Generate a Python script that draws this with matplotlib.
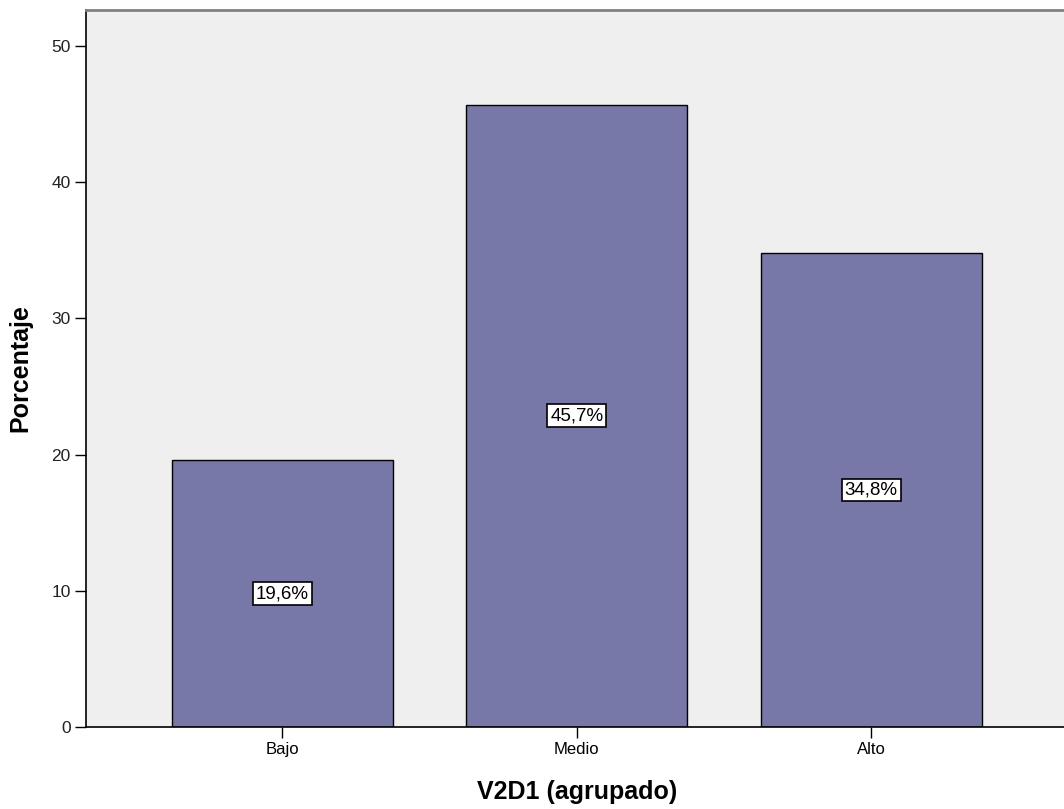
import matplotlib.pyplot as plt

categories = ["Bajo", "Medio", "Alto"]
percentages = [19.6, 45.7, 34.8]
bar_labels = ["19,6%", "45,7%", "34,8%"]
y_ticks = [0, 10, 20, 30, 40, 50]

plt.rcParams["font.family"] = ["Liberation Sans", "DejaVu Sans"]

fig = plt.figure(figsize=(10.64, 8.09), dpi=100)
ax = fig.add_axes([86 / 1064, 82 / 809, 981.7 / 1064, 717 / 809])
ax.set_facecolor("#EFEFEF")

x = list(range(len(categories)))
ax.bar(x, percentages, width=0.75, color="#7878A8", edgecolor="black", linewidth=1, zorder=2)

for xi, v, lab in zip(x, percentages, bar_labels):
    ax.text(xi, v / 2, lab, ha="center", va="center", fontsize=13.5, zorder=3,
            bbox=dict(boxstyle="square,pad=0.15", facecolor="white", edgecolor="black", linewidth=1.2))

ax.set_xlim(-0.667, 2.667)
ax.set_ylim(0, 52.64)
ax.set_xticks(x)
ax.set_xticklabels(categories, fontsize=12)
ax.set_yticks(y_ticks)
ax.set_yticklabels([str(t) for t in y_ticks], fontsize=12.5, color="#222222")
ax.tick_params(axis="both", direction="out", length=8, width=1, color="black", pad=3)

ax.spines["right"].set_visible(False)
ax.spines["top"].set_color("#808080")
ax.spines["top"].set_linewidth(2)
ax.spines["left"].set_linewidth(1.2)
ax.spines["bottom"].set_linewidth(1.2)

ax.set_xlabel("V2D1 (agrupado)", fontsize=18, fontweight="bold", labelpad=16)
ax.set_ylabel("Porcentaje", fontsize=18, fontweight="bold", labelpad=14)

fig.savefig("out.png", dpi=100)
